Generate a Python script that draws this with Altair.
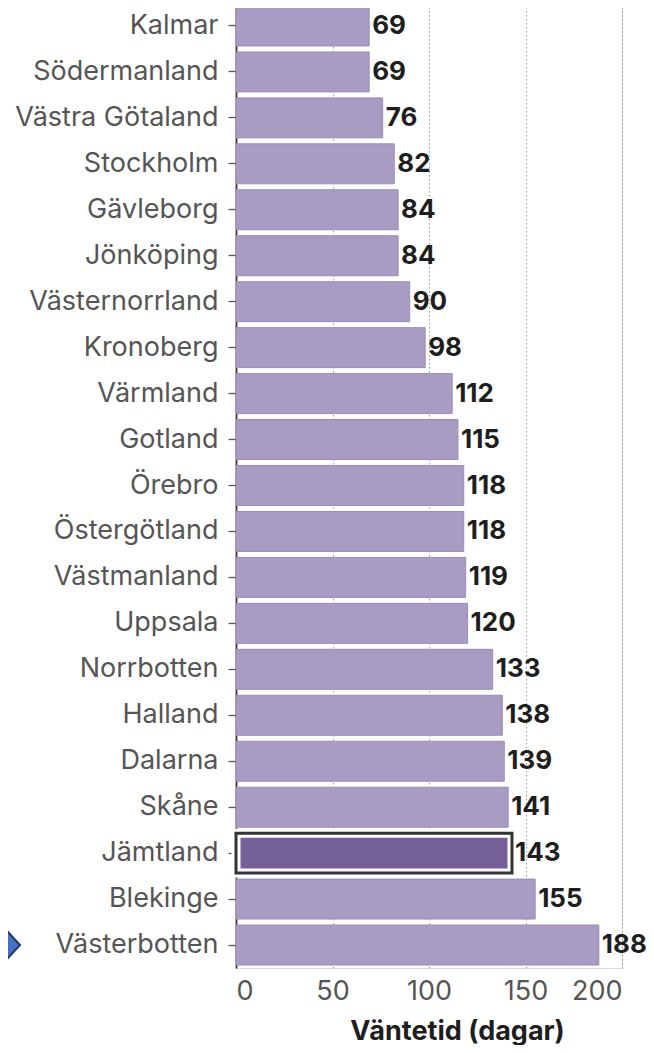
import altair as alt
import pandas as pd

regions = ["Kalmar", "Södermanland", "Västra Götaland", "Stockholm", "Gävleborg",
           "Jönköping", "Västernorrland", "Kronoberg", "Värmland", "Gotland",
           "Örebro", "Östergötland", "Västmanland", "Uppsala", "Norrbotten",
           "Halland", "Dalarna", "Skåne", "Jämtland", "Blekinge", "Västerbotten"]
days = [69, 69, 76, 82, 84, 84, 90, 98, 112, 115, 118, 118, 119, 120, 133,
        138, 139, 141, 143, 155, 188]
highlight = "Jämtland"
arrow_row = "Västerbotten"

df = pd.DataFrame({"region": regions, "days": days})
df["hl"] = df["region"] == highlight

FONT = "Inter"
FS = 27

x_enc = alt.X("days:Q", title="Väntetid (dagar)",
              scale=alt.Scale(domain=[0, 200], nice=False),
              axis=alt.Axis(values=[0, 50, 100, 150, 200], ticks=False, domain=False,
                            grid=True, gridDash=[1.5, 2.5], gridColor="#9a9a9a", gridWidth=1,
                            labelPadding=10, labelFontSize=FS, labelColor="#555555",
                            labelFont=FONT, titleFont=FONT, titleFontSize=FS,
                            titleFontWeight="bold", titleColor="#1e1e1e",
                            titlePadding=14, titleX=221))

base = alt.Chart(df).encode(
    y=alt.Y("region:N", sort=regions, title=None,
            scale=alt.Scale(paddingInner=0.13, paddingOuter=0.065),
            axis=alt.Axis(domain=True, domainColor="#333333", domainWidth=1.8,
                          tickColor="#555555", tickSize=8, tickWidth=1.3,
                          labelPadding=10, labelFontSize=FS, labelColor="#555555",
                          labelFont=FONT, labelLimit=400, grid=False)),
    x=x_enc,
)

bars = base.transform_filter("!datum.hl").mark_bar(
    fill="#a99cc2", stroke="#9a8cb5", strokeWidth=1)

hl_inner = base.transform_filter("datum.hl").mark_bar(
    fill="#76609a", stroke="white", strokeWidth=9)
hl_outer = base.transform_filter("datum.hl").mark_bar(
    fill="transparent", stroke="#333333", strokeWidth=3)

labels = base.mark_text(align="left", baseline="middle", dx=3, font=FONT,
                        fontSize=26, fontWeight="bold", color="#1e1e1e").encode(
    text=alt.Text("days:Q"))

arrow = alt.Chart(pd.DataFrame({"region": [arrow_row]})).mark_point(
    shape="M-1.2,-1.3L0,0L-1.2,1.3Z", filled=True, size=1600, fill="#4472c4",
    stroke="#1f3864", strokeWidth=2, opacity=1).encode(
    y=alt.Y("region:N", sort=regions),
    x=alt.value(-216))

chart = alt.layer(bars, hl_inner, hl_outer, labels, arrow).properties(
    width=386, height=965,
    autosize=alt.AutoSizeParams(type="none"),
    padding={"left": 228, "top": -5, "right": 24, "bottom": 77},
).configure_view(stroke=None).configure(background="white")

chart.save("out.html", embed_options={"renderer": "svg", "actions": False})
